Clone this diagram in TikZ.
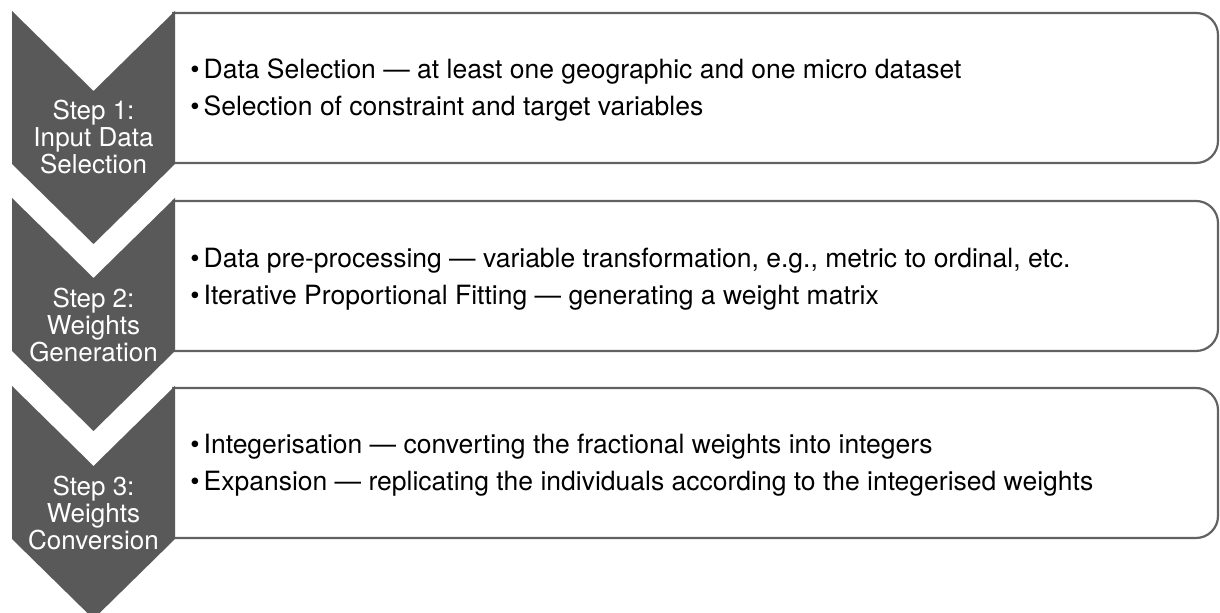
\documentclass[tikz,border=0pt]{standalone}
\usepackage{fontspec}
\setmainfont{TeX Gyre Heros}
\usepackage{tikz}

\definecolor{stepgray}{RGB}{89,89,89}
\definecolor{linegray}{RGB}{98,98,98}

\newcommand{\itembullet}{\textbullet\hspace{2pt}}

\tikzset{
    stepshape/.style={fill=stepgray},
    steplabel/.style={text=white, align=center, inner sep=0pt,
        font=\fontsize{13}{13.5}\selectfont},
    listbox/.style={draw=linegray, line width=1.1pt, rounded corners=11pt},
    itemtext/.style={anchor=west, align=left, inner sep=0pt,
        font=\fontsize{13.25}{18.5}\selectfont}
}

\begin{document}
\begin{tikzpicture}[x=0.5pt, y=-0.5pt]

    \useasboundingbox (0,0) rectangle (1220,613);
    \clip (0,0) rectangle (1220,613);

    \draw[listbox] (172,13) -- (1218,13) -- (1218,163) -- (172,163);
    \draw[listbox] (172,201) -- (1218,201) -- (1218,351) -- (172,351);
    \draw[listbox] (172,388) -- (1218,388) -- (1218,538) -- (172,538);

    \fill[stepshape] (12,11) -- (93.5,91) -- (175,11) -- (175,164) -- (93.5,244) -- (12,164) -- cycle;
    \fill[stepshape] (12,198) -- (93.5,278) -- (175,198) -- (175,351) -- (93.5,431) -- (12,351) -- cycle;
    \fill[stepshape] (12,386) -- (93.5,466) -- (175,386) -- (175,539) -- (93.5,619) -- (12,539) -- cycle;

    \node[steplabel] (step1) at (93.5,137) {Step 1:\\Input Data\\Selection};
    \node[steplabel] (step2) at (93.5,325) {Step 2:\\Weights\\Generation};
    \node[steplabel] (step3) at (93.5,513) {Step 3:\\Weights\\Conversion};

    \node[itemtext] (list1) at (190,90)
    {
        \itembullet Data Selection — at least one geographic and one micro dataset\\
        \itembullet Selection of constraint and target variables
    };
    \node[itemtext] (list2) at (190,279)
    {
        \itembullet Data pre-processing — variable transformation, e.g., metric to ordinal, etc.\\
        \itembullet Iterative Proportional Fitting — generating a weight matrix
    };
    \node[itemtext] (list3) at (190,465)
    {
        \itembullet Integerisation — converting the fractional weights into integers\\
        \itembullet Expansion — replicating the individuals according to the integerised weights
    };

\end{tikzpicture}
\end{document}
